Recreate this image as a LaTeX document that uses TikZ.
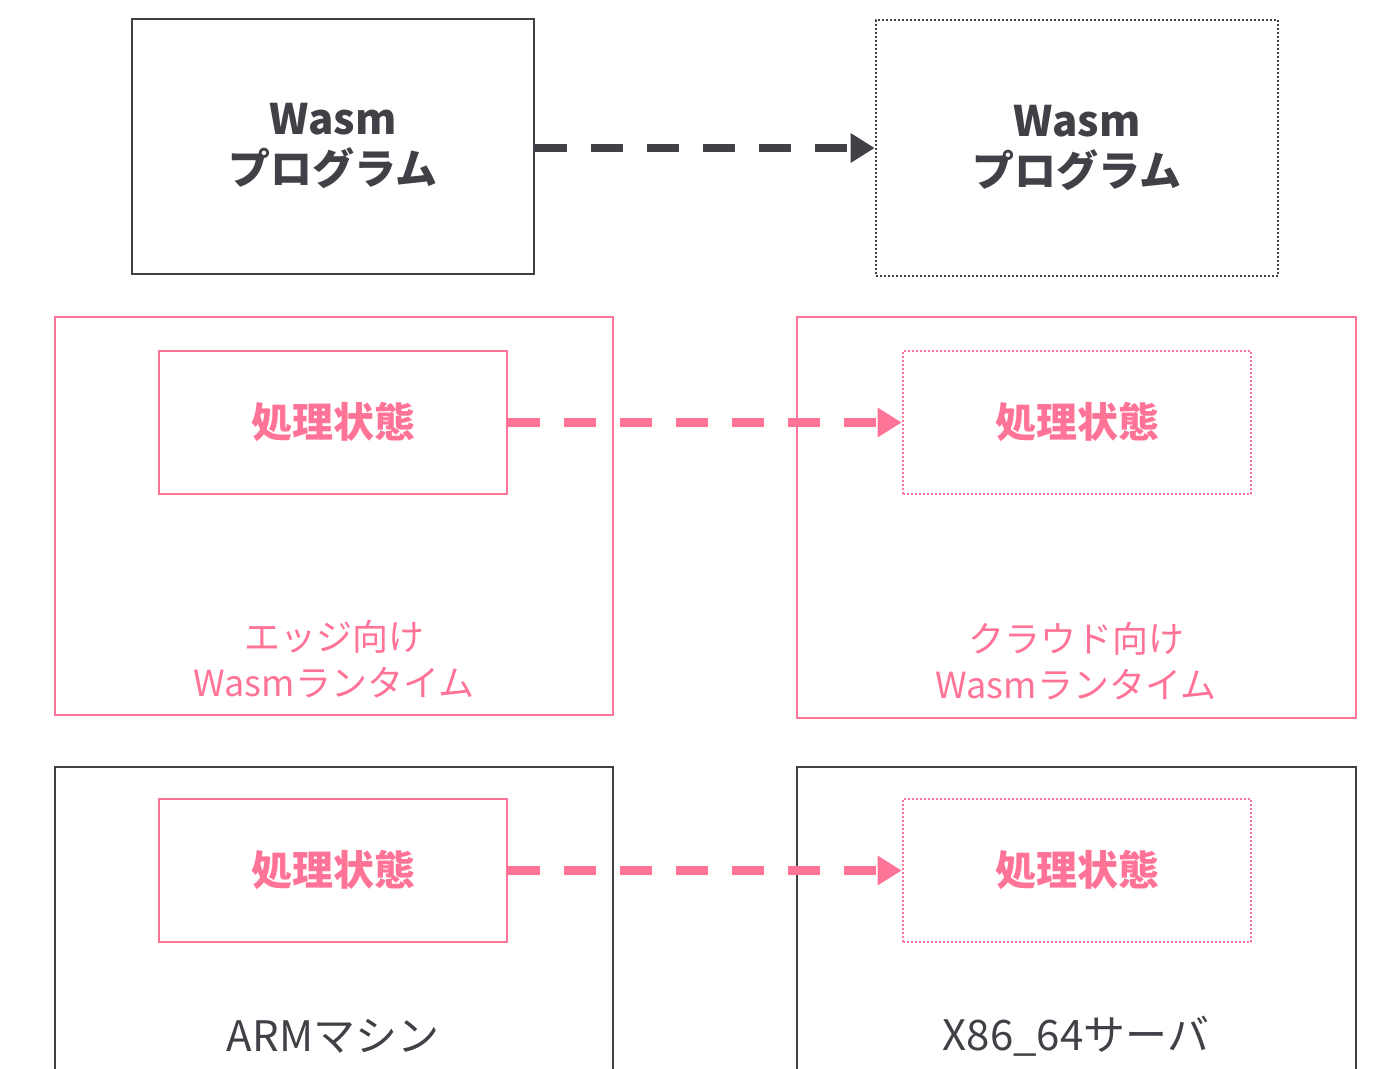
\documentclass[tikz,border=0pt]{standalone}
\usepackage{fontspec}
\setmainfont{Noto Sans CJK JP}
\usetikzlibrary{arrows.meta}
\definecolor{ink}{RGB}{64,64,70}
\definecolor{rose}{RGB}{255,115,150}
\tikzset{
  frame/.style={rectangle, draw=ink, line width=2.6pt, inner sep=0pt},
  pframe/.style={rectangle, draw=rose, line width=2.6pt, inner sep=0pt},
  dotline/.style={line width=2.6pt, dash pattern=on 2pt off 2pt},
  title/.style={font=\bfseries\fontsize{42}{50}\selectfont, text=ink, align=center},
  state/.style={font=\bfseries\fontsize{41}{48}\selectfont, text=rose},
  rtlabel/.style={font=\fontsize{36}{46}\selectfont, text=rose, align=center},
  hwlabel/.style={font=\fontsize{42}{48}\selectfont, text=ink},
  flow/.style={line width=8.5pt, dash pattern=on 32pt off 24pt,
    -{Triangle[length=24pt,width=28pt]}}
}
\begin{document}
\begin{tikzpicture}[x=1pt,y=-1pt]
\useasboundingbox (0,0) rectangle (1380,1068);
\clip (0,0) rectangle (1380,1068);

% programs
\node[frame, minimum width=402pt, minimum height=255pt] (prog1) at (333,146.5) {};
\node[frame, dotline, minimum width=402pt, minimum height=256pt] (prog2) at (1077,148) {};
\node[title] (prog1t) at (333,146) {Wasm\\プログラム};
\node[title] (prog2t) at (1077,148) {Wasm\\プログラム};

% runtimes
\node[pframe, minimum width=558pt, minimum height=398pt] (rt1) at (334,516) {};
\node[pframe, minimum width=559pt, minimum height=401pt] (rt2) at (1076.5,517.5) {};
\node[rtlabel] (rt1t) at (334,659) {エッジ向け\\Wasmランタイム};
\node[rtlabel] (rt2t) at (1076,661) {クラウド向け\\Wasmランタイム};

\node[pframe, minimum width=348pt, minimum height=143pt] (st1) at (333,422.5) {};
\node[pframe, dotline, minimum width=348pt, minimum height=143pt] (st2) at (1077,422.5) {};
\node[state] (st1t) at (333,422) {処理状態};
\node[state] (st2t) at (1077,422) {処理状態};

% machines (run past the lower edge)
\node[frame, minimum width=558pt, minimum height=340pt] (m1) at (334,937) {};
\node[frame, minimum width=559pt, minimum height=340pt] (m2) at (1076.5,937) {};
\node[hwlabel] (m1t) at (333,1036) {ARMマシン};
\node[hwlabel] (m2t) at (1076,1036) {X86\_64サーバ};

\node[pframe, minimum width=348pt, minimum height=143pt] (st3) at (333,870.5) {};
\node[pframe, dotline, minimum width=348pt, minimum height=143pt] (st4) at (1077,870.5) {};
\node[state] (st3t) at (333,870) {処理状態};
\node[state] (st4t) at (1077,870) {処理状態};

% migrations
\draw[flow, draw=ink] (prog1.east |- 0,148) -- (prog2.west);
\draw[flow, draw=rose] (st1.east) -- (st2.west);
\draw[flow, draw=rose] (st3.east) -- (st4.west);
\end{tikzpicture}
\end{document}
